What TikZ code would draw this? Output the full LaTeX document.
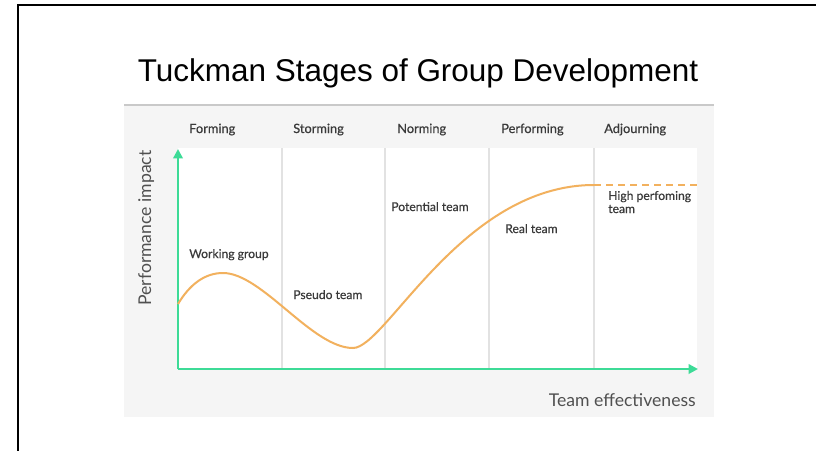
\documentclass[tikz,border=0pt]{standalone}
\usepackage{fontspec}
\setmainfont{Lato}
\newfontfamily\labelfont{Lato}[FakeBold=0.45]
\newfontfamily\titlefont{Liberation Sans}
\usetikzlibrary{arrows.meta}

\definecolor{panelgray}{HTML}{F5F5F5}
\definecolor{ruleline}{HTML}{C9C9C9}
\definecolor{divider}{HTML}{E2E2E2}
\definecolor{axisgreen}{HTML}{3DDB97}
\definecolor{curveorange}{HTML}{F2B15E}
\definecolor{labeltext}{HTML}{3A3A3A}
\definecolor{axistext}{HTML}{505050}

\tikzset{
  stage/.style={anchor=base west, inner sep=0pt, text=labeltext, font=\labelfont\fontsize{9.6}{11}\selectfont},
  teamlabel/.style={anchor=base west, inner sep=0pt, text=labeltext, font=\labelfont\fontsize{9.1}{9.8}\selectfont, align=left},
  axislabel/.style={inner sep=0pt, text=axistext, font=\fontsize{13.2}{15}\selectfont},
  axisline/.style={draw=axisgreen, line width=1.9pt, -{Triangle[length=7pt,width=7pt]}},
  stageline/.style={draw=divider, line width=0.8pt},
  curve/.style={draw=curveorange, line width=1.5pt},
}

\begin{document}
\begin{tikzpicture}[x=0.75pt, y=-0.75pt]
  \useasboundingbox (0,0) rectangle (816,450);

  % outer frame (top and left edges)
  \draw[black, line width=1.6pt] (18,451) -- (18,5) -- (817,5);

  % title
  \node[inner sep=0pt, anchor=base, font=\titlefont\fontsize{23.6}{26}\selectfont] (title) at (418,81)
    {Tuckman Stages of Group Development};

  % chart panel
  \fill[panelgray] (124,105) rectangle (714,417);
  \draw[ruleline, line width=0.8pt] (124,105) -- (714,105);
  \fill[white] (178,148) rectangle (697,369);

  % stage dividers
  \foreach \x in {282,385,489,594}
    \draw[stageline] (\x,148) -- (\x,369);

  % stage headings
  \node[stage] (forming)    at (189,133) {Forming};
  \node[stage] (storming)   at (293,133) {Storming};
  \node[stage] (norming)    at (397,133) {Norming};
  \node[stage] (performing) at (501,133) {Performing};
  \node[stage] (adjourning) at (604,133) {Adjourning};

  % axes
  \coordinate (origin) at (178,369);
  \coordinate (ytip) at (178,149);
  \coordinate (xtip) at (698,369);
  \draw[axisline] (origin) -- (ytip);
  \draw[axisline] (origin) -- (xtip);

  % performance curve
  \coordinate (c0) at (178,304);
  \coordinate (c1) at (223,273);
  \coordinate (c2) at (353,348);
  \coordinate (c3) at (594,185);
  \coordinate (c4) at (697,185);
  \draw[curve] (c0) .. controls (190,284) and (205,273) .. (c1)
                    .. controls (262,273) and (312,348) .. (c2)
                    .. controls (386,348) and (462,185) .. (c3);
  \draw[curve, dash pattern=on 5.5pt off 3.5pt] (c3) -- (c4);

  % team labels
  \node[teamlabel] (working)   at (189,258) {Working group};
  \node[teamlabel] (pseudo)    at (293,299) {Pseudo team};
  \node[teamlabel] (potential) at (391,211) {Potential team};
  \node[teamlabel] (real)      at (505,233) {Real team};
  \node[teamlabel] (high)      at (608,213) {High perfoming\\team};

  % axis titles
  \node[axislabel, anchor=base east] (xlabel) at (696,406) {Team effectiveness};
  \node[axislabel, anchor=base, rotate=90] (ylabel) at (151,228) {Performance impact};
\end{tikzpicture}
\end{document}
